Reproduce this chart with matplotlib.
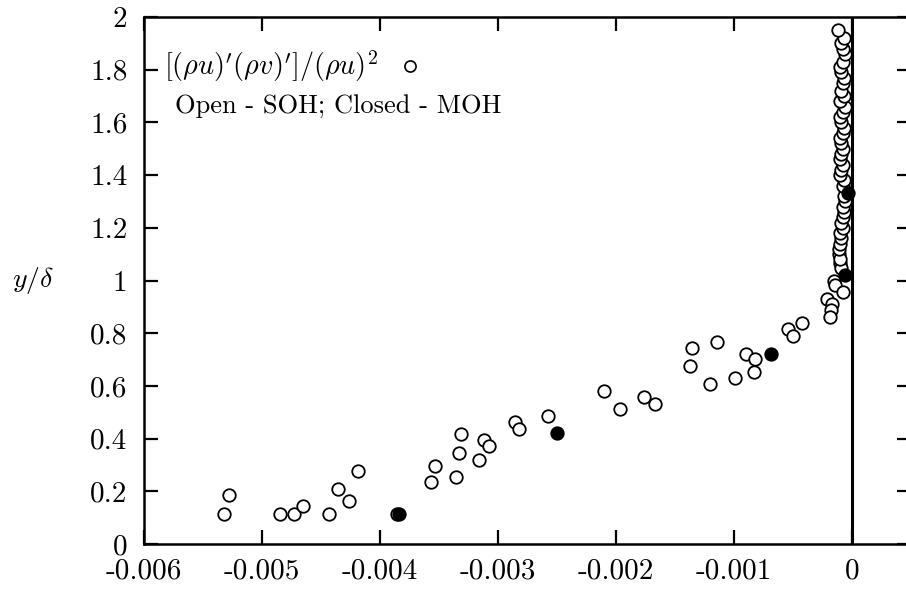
import matplotlib
matplotlib.use('Agg')
import matplotlib.pyplot as plt
from matplotlib.lines import Line2D

plt.rcParams['font.family'] = 'serif'
plt.rcParams['font.serif'] = ['cmr10', 'DejaVu Serif']
plt.rcParams['mathtext.fontset'] = 'cm'
plt.rcParams['axes.unicode_minus'] = False
plt.rcParams['axes.formatter.use_mathtext'] = True

# open symbols: SOH
soh_x = [-0.00532, -0.00528, -0.00485, -0.00473, -0.00465, -0.00443, -0.00436, -0.00426,
         -0.00419, -0.00386, -0.00357, -0.00353, -0.00336, -0.00333, -0.00331, -0.00316,
         -0.00312, -0.00308, -0.00286, -0.00282, -0.00258, -0.00210, -0.00197, -0.00176,
         -0.00167, -0.00136, -0.00137, -0.00114, -0.00120, -0.00099, -0.00090, -0.00082,
         -0.00083, -0.00054, -0.00050, -0.00042, -0.00021, -0.00017, -0.00018, -0.00019,
         -0.00015, -0.00014, -0.00008, -0.00010, -0.00009, -0.00011,
         -0.00010, -0.00011, -0.00010, -0.00009, -0.00010, -0.00008, -0.00009, -0.00008,
         -0.00007, -0.00008, -0.00006, -0.00007, -0.00008, -0.00007, -0.00010, -0.00009,
         -0.00008, -0.00010, -0.00009, -0.00008, -0.00009, -0.00010, -0.00008, -0.00007,
         -0.00009, -0.00010, -0.00008, -0.00006, -0.00010, -0.00007, -0.00009, -0.00008,
         -0.00007, -0.00009, -0.00010, -0.00008, -0.00006, -0.00008, -0.00009, -0.00007,
         -0.00012]
soh_y = [0.114, 0.186, 0.114, 0.114, 0.144, 0.114, 0.209, 0.163,
         0.277, 0.114, 0.235, 0.296, 0.254, 0.345, 0.417, 0.319,
         0.395, 0.372, 0.463, 0.436, 0.486, 0.581, 0.512, 0.558,
         0.531, 0.744, 0.675, 0.767, 0.607, 0.630, 0.721, 0.702,
         0.653, 0.816, 0.789, 0.839, 0.930, 0.911, 0.888, 0.862,
         0.998, 0.983, 0.956, 1.066, 1.047, 1.100,
         1.080, 1.120, 1.140, 1.160, 1.180, 1.200, 1.220, 1.240,
         1.260, 1.280, 1.300, 1.320, 1.360, 1.380, 1.400, 1.420,
         1.440, 1.460, 1.480, 1.500, 1.520, 1.540, 1.560, 1.580,
         1.600, 1.620, 1.640, 1.660, 1.680, 1.700, 1.720, 1.750,
         1.770, 1.790, 1.810, 1.830, 1.860, 1.880, 1.900, 1.920,
         1.950]

# filled symbols: MOH
moh_x = [-0.00384, -0.00250, -0.00069, -0.00006, -0.00003]
moh_y = [0.114, 0.421, 0.721, 1.021, 1.332]

xticks = [-0.006, -0.005, -0.004, -0.003, -0.002, -0.001, 0.0]
xtick_labels = ['-0.006', '-0.005', '-0.004', '-0.003', '-0.002', '-0.001', '0']
yticks = [0, 0.2, 0.4, 0.6, 0.8, 1.0, 1.2, 1.4, 1.6, 1.8, 2.0]
ytick_labels = ['0', '0.2', '0.4', '0.6', '0.8', '1', '1.2', '1.4', '1.6', '1.8', '2']

fig = plt.figure(figsize=(9.06, 5.90), dpi=100)
ax = fig.add_axes([144 / 906, 46 / 590, 767 / 906, 527 / 590])

ax.axvline(0, color='k', lw=2.2, zorder=1)
ax.plot(soh_x, soh_y, 'o', mfc='white', mec='k', ms=9, mew=1.3, zorder=3)
ax.plot(moh_x, moh_y, 'o', mfc='k', mec='k', ms=9, mew=1.3, zorder=4)

ax.set_xlim(-0.006, 0.0005)
ax.set_ylim(0, 2)
ax.set_xticks(xticks)
ax.set_xticklabels(xtick_labels)
ax.set_yticks(yticks)
ax.set_yticklabels(ytick_labels)
ax.tick_params(direction='in', top=True, right=True, length=10, width=1.6,
               labelsize=21, pad=10)
ax.tick_params(axis='y', pad=12)
for sp in ax.spines.values():
    sp.set_linewidth(1.8)

ax.set_ylabel(r'$y/\delta$', rotation=0, fontsize=20, va='center')
ax.yaxis.set_label_coords(-0.145, 0.5)

handle = Line2D([], [], ls='none', marker='o', mfc='white', mec='k', ms=8, mew=1.2)
ax.legend([handle], [r'$[(\rho u)^{\prime}(\rho v)^{\prime}]/(\rho u)^2$'],
          loc='upper left', bbox_to_anchor=(0.026, 0.94), frameon=False,
          markerfirst=False, fontsize=20.3, borderaxespad=0, borderpad=0,
          handletextpad=0.65, handlelength=1.0)
ax.text(0.040, 0.831, 'Open - SOH; Closed - MOH', transform=ax.transAxes,
        fontsize=19, va='center', ha='left')

fig.savefig('out.png', dpi=100)
